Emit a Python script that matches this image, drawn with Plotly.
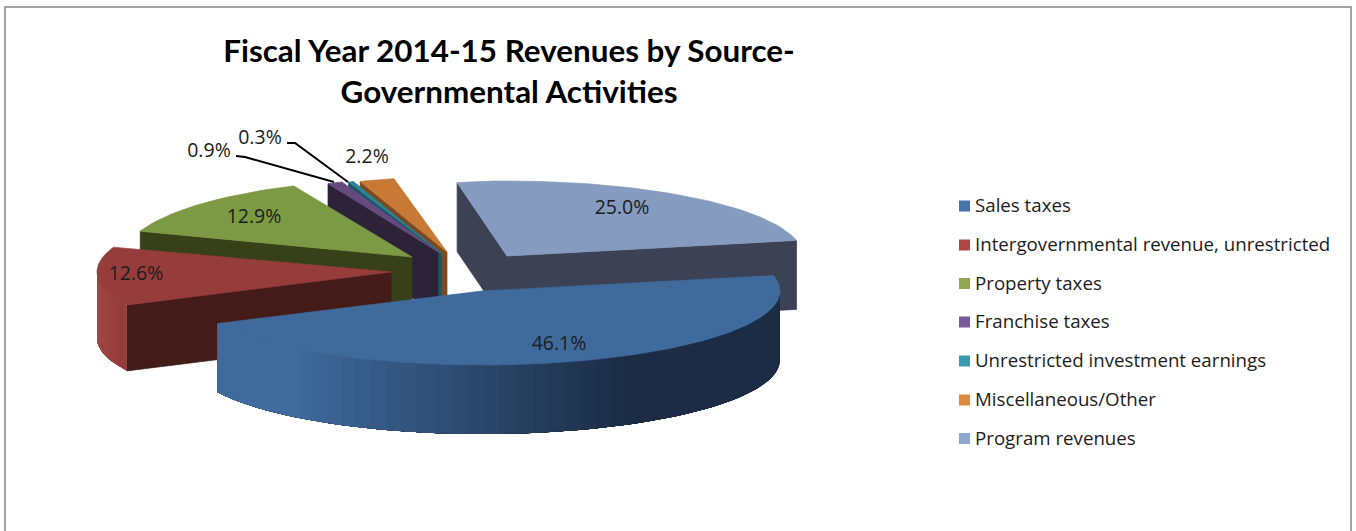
import math
import plotly.graph_objects as go

categories = ["Sales taxes", "Intergovernmental revenue, unrestricted", "Property taxes",
              "Franchise taxes", "Unrestricted investment earnings", "Miscellaneous/Other",
              "Program revenues"]
shares = [46.1, 12.6, 12.9, 0.9, 0.3, 2.2, 25.0]
title_text = "Fiscal Year 2014-15 Revenues by Source-<br>Governmental Activities"

top_colors = ["#3f6a9c", "#963d3c", "#7c9a44", "#654a80", "#2f8499", "#c87935", "#859bbf"]
wall_colors = ["#1b2c44", "#431b18", "#384019", "#2c2338", "#1c5666", "#7a4a20", "#3c4254"]
legend_colors = ["#4675ad", "#b04545", "#8fa84f", "#7a5a9a", "#3a9ab0", "#dd8a3c", "#8ea8cf"]

# Exploded-pie projection: for each slice the apex, radii and wall height in pixels
START = 78.0
geom = [
    dict(cx=482, cy=291, a=298, al=294, b=74, h=69, faces=[], rim=True),
    dict(cx=391, cy=272, a=294, al=294, b=75, h=66, faces=["start"], rim=True),
    dict(cx=412, cy=257, a=288, al=288, b=78, h=64, faces=["start"], rim=False),
    dict(cx=438, cy=252, a=268, al=268, b=75, h=62, faces=["start"], rim=False),
    dict(cx=441, cy=253, a=258, al=258, b=76, h=62, faces=["start", "end"], rim=False),
    dict(cx=447, cy=252, a=255, al=255, b=75, h=62, faces=["start"], rim=False),
    dict(cx=507, cy=256, a=296, al=240, b=75, h=69, faces=["start", "end"], rim=False),
]
label_pos = [(559, 345), (622, 209), (136, 275), (254, 218), (209, 152), (260, 139), (367, 158)]
label_order = [0, 6, 1, 2, 3, 4, 5]
leaders = {3: [(236, 156), (245, 157), (334, 182)], 4: [(287, 143), (295, 143), (348, 182)]}
legend_y = [206, 245, 283.5, 322, 361, 400, 438.5]
legend_text_y = [y + 1.5 for y in legend_y]


def rim_xy(g, deg):
    s = math.sin(math.radians(deg))
    c = math.cos(math.radians(deg))
    return g["cx"] + (g["a"] if s >= 0 else g["al"]) * s, g["cy"] - g["b"] * c


def poly(xs, ys, color, name, width=0.7):
    return go.Scatter(x=xs + xs[:1], y=ys + ys[:1], mode="lines", fill="toself", fillcolor=color,
                      line=dict(color=color, width=width), hoverinfo="skip", name=name, showlegend=False)


def lerp(c0, c1, t):
    t = min(1, max(0, t))
    return "rgb(%d,%d,%d)" % tuple(round(p + (q - p) * t) for p, q in zip(c0, c1))


spans = []
angle = START
for v in shares:
    spans.append((angle, angle + v * 3.6))
    angle += v * 3.6

fig = go.Figure()
for i in [6, 5, 4, 3, 2, 1, 0]:
    g, (a0, a1) = geom[i], spans[i]
    name = categories[i]
    for face in g["faces"]:
        px, py = rim_xy(g, a0 if face == "start" else a1)
        fig.add_trace(poly([g["cx"], px, px, g["cx"]], [g["cy"], py, py + g["h"], g["cy"] + g["h"]],
                           wall_colors[i], name))
    if g["rim"]:
        lo, hi = max(a0, 90), min(a1, 270)
        n = 48 if i == 0 else 8
        for k in range(n):
            # each strip reaches on to the far end of the rim, so later strips cover it without seams
            d0 = lo + (hi - lo) * k / n
            steps = max(2, int((hi - d0) / 2))
            arc = [rim_xy(g, d0 + (hi - d0) * j / steps) for j in range(steps + 1)]
            xm = rim_xy(g, d0 + (hi - lo) / n / 2)[0]
            if i == 0:
                col = lerp((63, 106, 156), (27, 44, 68), (xm - 293) / 334)
            else:
                col = lerp((160, 70, 67), (148, 60, 58), (xm - 97) / 26)
            fig.add_trace(poly([p[0] for p in arc] + [p[0] for p in arc[::-1]],
                               [p[1] for p in arc] + [p[1] + g["h"] for p in arc[::-1]], col, name, width=0))
    steps = max(4, int((a1 - a0) / 1.5))
    pts = [rim_xy(g, a0 + (a1 - a0) * k / steps) for k in range(steps + 1)]
    fig.add_trace(poly([g["cx"]] + [p[0] for p in pts], [g["cy"]] + [p[1] for p in pts], top_colors[i], name))

for pts in leaders.values():
    fig.add_trace(go.Scatter(x=[p[0] for p in pts], y=[p[1] for p in pts], mode="lines",
                             line=dict(color="#000000", width=2), hoverinfo="skip", showlegend=False))

fig.add_trace(go.Scatter(x=[p[0] for p in label_pos], y=[p[1] for p in label_pos], mode="text",
                         text=[f"{shares[j]:.1f}%" for j in label_order], textposition="middle center",
                         textfont=dict(family="Open Sans", size=19.5, color="#1c1c1c"),
                         hoverinfo="skip", showlegend=False))
fig.add_trace(go.Scatter(x=[964.5] * 7, y=legend_y, mode="markers",
                         marker=dict(symbol="square", size=11, color=legend_colors),
                         hoverinfo="skip", showlegend=False))
fig.add_trace(go.Scatter(x=[975] * 7, y=legend_text_y, mode="text", text=categories, textposition="middle right",
                         textfont=dict(family="Open Sans", size=18.7, color="#1c1c1c"),
                         hoverinfo="skip", showlegend=False))

fig.update_layout(
    width=1356, height=531, margin=dict(l=0, r=0, t=0, b=0),
    paper_bgcolor="white", plot_bgcolor="white", showlegend=False,
    title=dict(text=title_text, x=509 / 1356, xanchor="center", y=0.883, yanchor="top",
               font=dict(family="Lato", size=31.4, color="#000000", weight="bold")),
    xaxis=dict(range=[0, 1356], visible=False, fixedrange=True),
    yaxis=dict(range=[531, 0], visible=False, fixedrange=True),
    shapes=[dict(type="rect", xref="x", yref="y", x0=5, y0=7, x1=1351, y1=560,
                 line=dict(color="#868686", width=1.5), layer="below")],
)
fig.write_html("out.html", config={"displayModeBar": False},
               post_script="document.body.style.margin='0';document.documentElement.style.overflow='hidden';")
